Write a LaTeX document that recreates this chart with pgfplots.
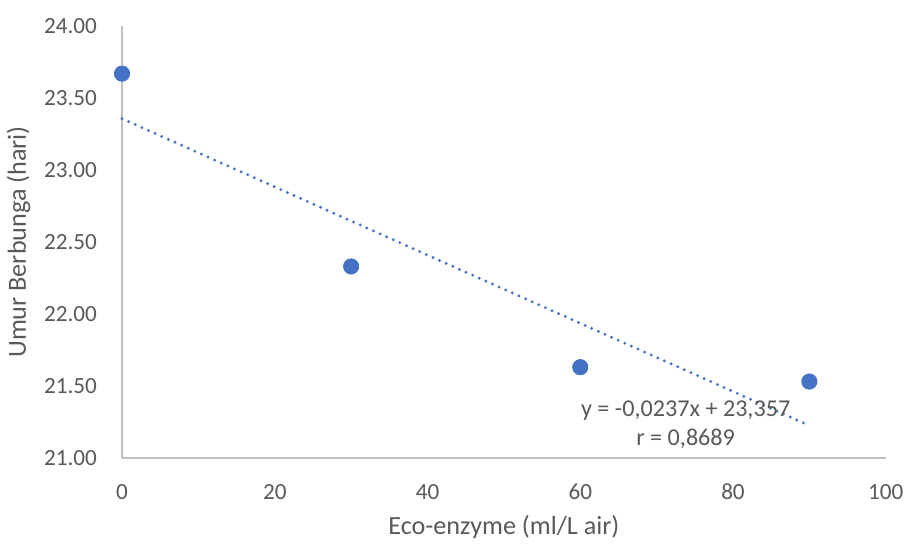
\documentclass[border=0pt]{standalone}
\usepackage{fontspec}
\setmainfont{Carlito}
\usepackage{pgfplots}
\pgfplotsset{compat=1.18}

\definecolor{xlblue}{HTML}{4472C4}
\definecolor{xltext}{HTML}{595959}
\definecolor{xlaxis}{HTML}{BFBFBF}

\begin{document}
\begin{tikzpicture}
\begin{axis}[
    scale only axis,
    width=379.5bp,
    height=214.5bp,
    xmin=0, xmax=100,
    ymin=21, ymax=24,
    xtick={0,20,...,100},
    ytick={21,21.5,...,24},
    axis lines*=left,
    axis line style={xlaxis, line width=1bp, -},
    tick style={draw=none},
    ticklabel style={text=xltext, font=\fontsize{11.5bp}{13bp}\selectfont},
    /pgf/number format/assume math mode=true,
    yticklabel={\pgfmathprintnumber[fixed, fixed zerofill, precision=2]{\tick}},
    xticklabel style={yshift=-9.5bp},
    yticklabel style={xshift=-9bp},
    xlabel={Eco-enzyme (ml/L air)},
    ylabel={Umur Berbunga (hari)},
    label style={text=xltext, font=\fontsize{13bp}{15bp}\selectfont},
    xlabel style={yshift=-1bp},
    ylabel style={yshift=0bp},
    clip=false,
]
% data
\addplot[only marks, mark=*, mark size=3.8bp, mark options={fill=xlblue, draw=xlblue}]
    coordinates {(0,23.67) (30,22.33) (60,21.63) (90,21.53)};
% linear trend line
\addplot[xlblue, line width=1.6bp, line cap=round, dash pattern=on 0bp off 3.6bp]
    coordinates {(0,23.357) (90,21.224)};
\node[align=center, text=xltext, font=\fontsize{12bp}{14.5bp}\selectfont]
    at (axis cs:73.8,21.23) {y = -0,0237x + 23,357\\r = 0,8689};
\end{axis}
% room above the plot
\path ([yshift=13bp]current axis.north west);
\end{tikzpicture}
\end{document}
